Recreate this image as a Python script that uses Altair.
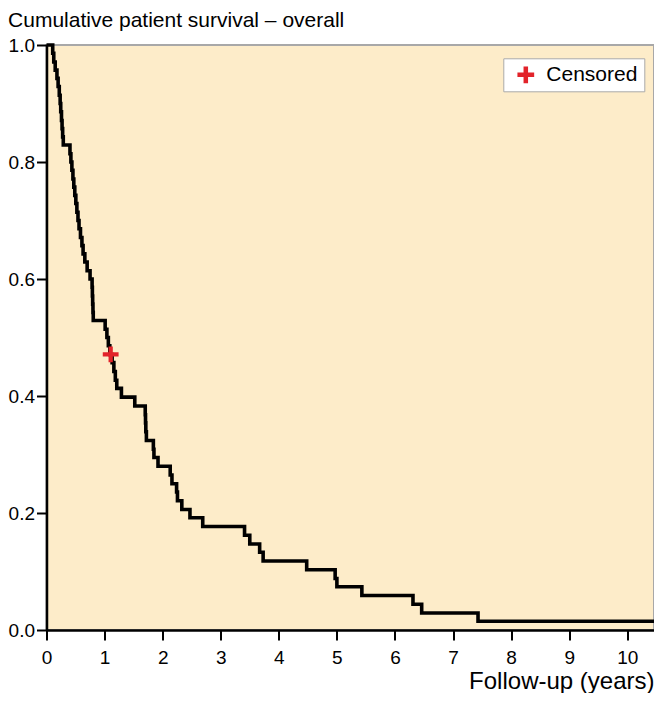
import altair as alt
import pandas as pd

# Kaplan-Meier step curve (time in years, cumulative survival)
times = [0, 0.107, 0.125, 0.15, 0.18, 0.20, 0.22, 0.235, 0.245, 0.258, 0.268, 0.278, 0.289,
         0.404, 0.42, 0.437, 0.455, 0.47, 0.487, 0.505, 0.523, 0.542, 0.56, 0.585, 0.61, 0.63,
         0.66, 0.70, 0.75, 0.785, 0.79, 0.795, 0.80, 0.805, 1.01, 1.04, 1.065, 1.09,
         1.13, 1.16, 1.185, 1.21, 1.29, 1.52, 1.70, 1.705, 1.71, 1.72, 1.84, 1.85, 1.92,
         2.13, 2.16, 2.24, 2.255, 2.33, 2.47, 2.69, 3.41, 3.50, 3.67, 3.73, 4.48, 4.97,
         5.00, 5.43, 6.31, 6.46, 7.43, 10.46]
surv = [1.0, 0.986, 0.971, 0.957, 0.943, 0.929, 0.914, 0.900, 0.886, 0.871, 0.857, 0.843, 0.829,
        0.814, 0.800, 0.786, 0.771, 0.757, 0.743, 0.729, 0.714, 0.700, 0.686, 0.671, 0.657, 0.643,
        0.629, 0.614, 0.600, 0.586, 0.571, 0.557, 0.543, 0.529, 0.514, 0.500, 0.486, 0.471,
        0.457, 0.442, 0.427, 0.413, 0.398, 0.383, 0.368, 0.354, 0.339, 0.324, 0.309, 0.295, 0.280,
        0.265, 0.250, 0.236, 0.221, 0.206, 0.192, 0.177, 0.162, 0.147, 0.133, 0.118, 0.103, 0.088,
        0.074, 0.059, 0.044, 0.029, 0.015, 0.015]

cens_time = [1.105]
cens_surv = [0.471]
cens_type = ["Censored"]

x_ticks = [0, 1, 2, 3, 4, 5, 6, 7, 8, 9, 10]
y_ticks = [0.0, 0.2, 0.4, 0.6, 0.8, 1.0]

curve = pd.DataFrame({"t": times, "s": surv})
cens = pd.DataFrame({"t": cens_time, "s": cens_surv, "type": cens_type})

FONT = "Liberation Sans"
PLUS = "M-1,-0.27H1V0.27H-1Z M-0.27,-1H0.27V1H-0.27Z"
RED = "#e2232a"
W, H = 607.5, 585

x_enc = alt.X(
    "t:Q",
    scale=alt.Scale(domain=[0, 10.46], nice=False, zero=False),
    axis=alt.Axis(values=x_ticks, format="d", title="Follow-up (years)",
                  labelFlush=False, labelPadding=8,
                  titleX=W, titleY=58, titleAlign="right", titleBaseline="alphabetic",
                  titleFontSize=24),
)
y_enc = alt.Y(
    "s:Q",
    scale=alt.Scale(domain=[0, 1], nice=False),
    axis=alt.Axis(values=y_ticks, format=".1f", title="", labelFlush=False, labelPadding=2),
)

line = alt.Chart(curve).mark_line(
    interpolate="step-after", color="black", strokeWidth=3.6
).encode(x=x_enc, y=y_enc)

pts = alt.Chart(cens).mark_point(
    shape=PLUS, filled=True, size=250, opacity=1, strokeWidth=0
).encode(
    x="t:Q",
    y="s:Q",
    color=alt.Color(
        "type:N",
        scale=alt.Scale(domain=cens_type, range=[RED]),
        legend=alt.Legend(
            title=None, orient="none", legendX=456.8, legendY=13.3,
            fillColor="white", strokeColor="#aaaaaa", padding=6,
            symbolType=PLUS, symbolSize=280, symbolStrokeWidth=0, symbolOffset=6,
            labelFontSize=21, labelFont=FONT, labelColor="black", labelOffset=10,
        ),
    ),
)

chart = alt.layer(line, pts).properties(
    width=W,
    height=H,
    autosize=alt.AutoSizeParams(type="none"),
    padding={"left": 38.5, "top": 37, "right": 0, "bottom": 63},
    title=alt.TitleParams(
        "Cumulative patient survival \u2013 overall",
        anchor="start", frame="bounds", fontSize=21, font=FONT,
        fontWeight="normal", color="black", baseline="alphabetic", offset=12, dy=24,
    ),
).configure_view(
    fill="#fdecc9", stroke="#a8a8a8", strokeWidth=2
).configure_axis(
    grid=False, domainColor="black", domainWidth=2.5, tickColor="black",
    tickWidth=2, tickSize=10, labelFontSize=19, labelFont=FONT, labelColor="black",
    titleFont=FONT, titleFontWeight="normal", titleColor="black",
)

chart.save("out.html", embed_options={"renderer": "svg", "actions": False})
